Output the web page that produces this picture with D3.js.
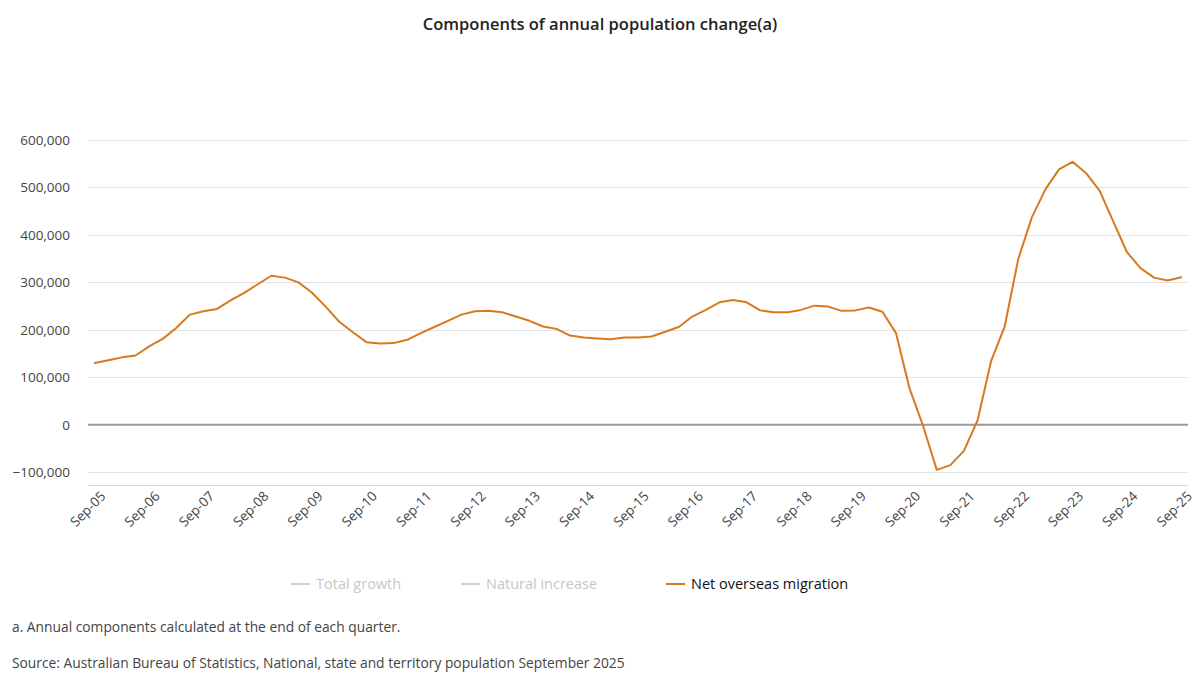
<!DOCTYPE html>
<html>
<head>
<meta charset="utf-8">
<script src="https://cdn.jsdelivr.net/npm/d3@7"></script>
<style>
	body { margin: 0; background: #fff; }
	svg { display: block; font-family: "Open Sans", "Noto Sans", sans-serif; }
</style>
</head>
<body>
<div id="chart"></div>
<script>
// Quarterly labels, Sep-05 .. Sep-25
const quarters = [];
const years = d3.range(5, 26);
years.forEach(y => {
	['Sep', 'Dec', 'Mar', 'Jun'].forEach(m => {
		const yy = (m === 'Sep' || m === 'Dec') ? y : y + 1;
		quarters.push(m + '-' + String(yy).padStart(2, '0'));
	});
});
const categories = quarters.slice(0, 81);

// Net overseas migration, annual
const netOverseasMigration = [
	130000, 136000, 142000, 146000, 165000, 181000, 204000, 232000, 239000, 244000,
	262000, 278000, 296000, 314000, 310000, 300000, 278000, 249000, 217000, 195000,
	174000, 171000, 172000, 179000, 193000, 206000, 219000, 232000, 239000, 240000,
	237000, 228000, 219000, 207000, 202000, 188000, 184000, 182000, 180000, 184000,
	184000, 186000, 196000, 206000, 228000, 242000, 258000, 263000, 258000, 241000,
	237000, 237000, 242000, 251000, 249000, 240000, 241000, 247000, 238000, 193000,
	76000, -3000, -95000, -85000, -55000, 9000, 134000, 207000, 349000, 437000,
	496000, 538000, 554000, 530000, 493000, 428000, 364000, 330000, 310000, 304000,
	311000
];

const yTicks = [-100000, 0, 100000, 200000, 300000, 400000, 500000, 600000];
const legendItems = [
	{name: 'Total growth', active: false},
	{name: 'Natural increase', active: false},
	{name: 'Net overseas migration', active: true}
];

const WIDTH = 1200;
const HEIGHT = 691;
const MARGIN = {left: 88, right: 12, top: 140, bottom: 205};
const Y_MIN = -128000;
const COLOR_NOM = '#d8791f';

const svg = d3.select('#chart')
	.append('svg')
	.attr('width', WIDTH)
	.attr('height', HEIGHT);

const x = d3.scaleBand()
	.domain(categories)
	.range([MARGIN.left, WIDTH - MARGIN.right]);

const y = d3.scaleLinear()
	.domain([Y_MIN, 600000])
	.range([HEIGHT - MARGIN.bottom - 0.5, MARGIN.top]);

const cx = d => x(d) + x.bandwidth() / 2;

svg.append('text')
	.attr('x', WIDTH / 2)
	.attr('y', 30)
	.attr('text-anchor', 'middle')
	.attr('font-size', 16.5)
	.attr('font-weight', 600)
	.attr('fill', '#222')
	.text('Components of annual population change(a)');

// gridlines
svg.append('g')
	.selectAll('line')
	.data(yTicks.filter(d => d !== 0))
	.join('line')
	.attr('x1', MARGIN.left)
	.attr('x2', WIDTH - MARGIN.right)
	.attr('y1', d => Math.round(y(d)) + 0.5)
	.attr('y2', d => Math.round(y(d)) + 0.5)
	.attr('stroke', '#e2e2e2');

// bottom axis line
svg.append('line')
	.attr('x1', MARGIN.left)
	.attr('x2', WIDTH - MARGIN.right)
	.attr('y1', y(Y_MIN))
	.attr('y2', y(Y_MIN))
	.attr('stroke', '#d5d9e3');

// zero line
svg.append('line')
	.attr('x1', MARGIN.left)
	.attr('x2', WIDTH - MARGIN.right)
	.attr('y1', y(0))
	.attr('y2', y(0))
	.attr('stroke', '#999')
	.attr('stroke-width', 2);

// y axis labels
const yAxis = svg.append('g')
	.attr('transform', `translate(${MARGIN.left}, 0)`)
	.call(d3.axisLeft(y).tickValues(yTicks).tickSize(0).tickPadding(18).tickFormat(d3.format(',')));
yAxis.select('.domain').remove();
yAxis.selectAll('text')
	.attr('font-size', 13.5)
	.attr('font-family', '"Open Sans", "Noto Sans", sans-serif')
	.attr('fill', '#444');

// x axis labels
const xAxis = svg.append('g')
	.attr('transform', `translate(0, ${y(Y_MIN)})`)
	.call(d3.axisBottom(x)
		.tickValues(categories.filter((d, i) => i % 4 === 0))
		.tickSize(0)
		.tickPadding(8));
xAxis.select('.domain').remove();
xAxis.selectAll('text')
	.attr('font-size', 13.5)
	.attr('font-family', '"Open Sans", "Noto Sans", sans-serif')
	.attr('fill', '#444')
	.attr('text-anchor', 'end')
	.attr('dy', 0)
	.attr('transform', 'translate(6, 6) rotate(-45)');

// series line
const line = d3.line()
	.x((d, i) => cx(categories[i]))
	.y(d => y(d));

svg.append('path')
	.datum(netOverseasMigration)
	.attr('d', line)
	.attr('fill', 'none')
	.attr('stroke', COLOR_NOM)
	.attr('stroke-width', 2)
	.attr('stroke-linejoin', 'round')
	.attr('stroke-linecap', 'round');

// legend
const legendX = [291, 461, 666];
const legend = svg.append('g')
	.selectAll('g')
	.data(legendItems)
	.join('g')
	.attr('transform', (d, i) => `translate(${legendX[i]}, 584)`);

legend.append('line')
	.attr('x1', 0)
	.attr('x2', 19)
	.attr('stroke', d => d.active ? COLOR_NOM : '#cfcfcf')
	.attr('stroke-width', 2);

legend.append('text')
	.attr('x', 25)
	.attr('dy', '0.35em')
	.attr('font-size', 14.5)
	.attr('font-weight', d => d.active ? 500 : 400)
	.attr('fill', d => d.active ? '#111' : '#c6c6c6')
	.text(d => d.name);

// footnotes
svg.append('text')
	.attr('x', 12)
	.attr('y', 632)
	.attr('font-size', 13.8)
	.attr('fill', '#444')
	.text('a. Annual components calculated at the end of each quarter.');

svg.append('text')
	.attr('x', 12)
	.attr('y', 668)
	.attr('font-size', 13.8)
	.attr('fill', '#444')
	.text('Source: Australian Bureau of Statistics, National, state and territory population September 2025');
</script>
</body>
</html>
